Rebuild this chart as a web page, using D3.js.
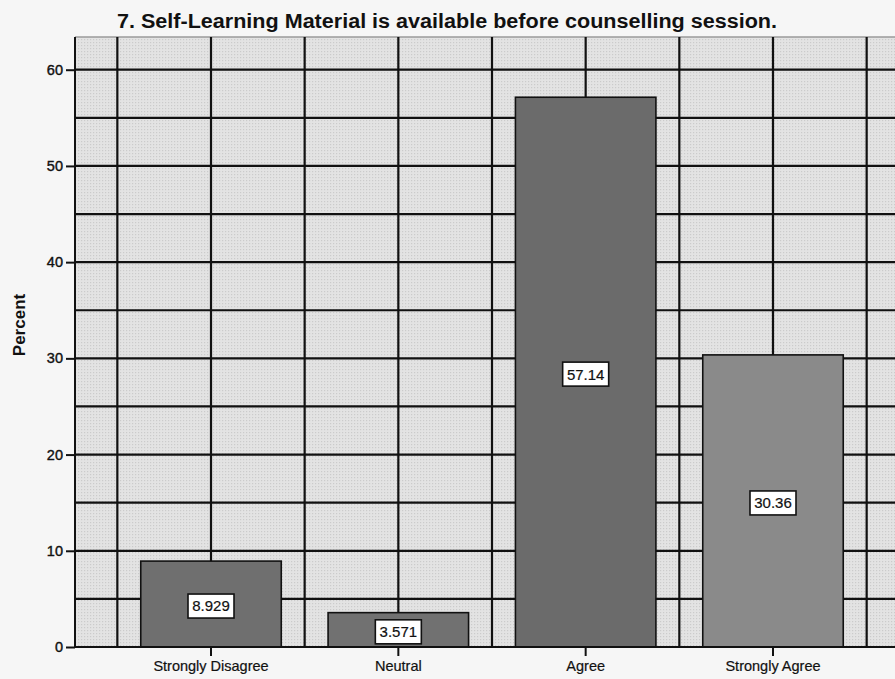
<!DOCTYPE html>
<html><head><meta charset="utf-8">
<script src="https://cdn.jsdelivr.net/npm/d3@7"></script>
<style>html,body{margin:0;padding:0;background:#f6f6f6;overflow:hidden}</style>
</head><body>
<svg id="chart" width="895" height="679"></svg>
<script>
const categories = ["Strongly Disagree", "Neutral", "Agree", "Strongly Agree"];
const percents = [8.929, 3.571, 57.14, 30.36];
const valueLabels = ["8.929", "3.571", "57.14", "30.36"];
const yTicks = [0, 10, 20, 30, 40, 50, 60];
const yGrid = [5, 10, 15, 20, 25, 30, 35, 40, 45, 50, 55, 60];
const barColors = ["#6f6f6f", "#717171", "#6b6b6b", "#8a8a8a"];
const title = "7. Self-Learning Material is available before counselling session.";

(function () {
const svg = d3.select("#chart");
const W = 895, H = 679;
const pLeft = 75, pRight = 909, pTop = 37, pBottom = 647;
const font = "'Liberation Sans', Arial, sans-serif";

svg.append("rect").attr("width", W).attr("height", H).attr("fill", "#f6f6f6");

const defs = svg.append("defs");
const pat = defs.append("pattern").attr("id", "dots").attr("width", 3).attr("height", 3)
  .attr("patternUnits", "userSpaceOnUse");
pat.append("rect").attr("width", 3).attr("height", 3).attr("fill", "#e3e3e3");
pat.append("rect").attr("width", 1.2).attr("height", 1.2).attr("fill", "#cbcbcb");

const x = d3.scaleBand().domain(categories).range([pLeft, pRight]).paddingInner(0.25).paddingOuter(0.351);
const y = d3.scaleLinear().domain([0, 63.4]).range([pBottom, pTop]);

svg.append("rect").attr("x", pLeft).attr("y", pTop).attr("width", pRight - pLeft).attr("height", pBottom - pTop)
  .attr("fill", "url(#dots)");
svg.append("line").attr("x1", pLeft).attr("x2", pRight).attr("y1", pTop).attr("y2", pTop)
  .attr("stroke", "#9a9a9a").attr("stroke-width", 1.5);

svg.append("g").selectAll("line").data(yGrid).join("line")
  .attr("x1", pLeft).attr("x2", pRight).attr("y1", d => y(d)).attr("y2", d => y(d))
  .attr("stroke", "#111").attr("stroke-width", 2.2);

const step = x.step();
const vx = [];
categories.forEach(c => { const cx = x(c) + x.bandwidth() / 2; vx.push(cx - step / 2, cx); });
vx.push(x(categories[categories.length - 1]) + x.bandwidth() / 2 + step / 2);
svg.append("g").selectAll("line").data(vx).join("line")
  .attr("x1", d => d).attr("x2", d => d).attr("y1", pTop).attr("y2", pBottom)
  .attr("stroke", "#111").attr("stroke-width", 2.2);

svg.append("g").selectAll("rect").data(percents).join("rect")
  .attr("x", (d, i) => x(categories[i])).attr("width", x.bandwidth())
  .attr("y", d => y(d)).attr("height", d => pBottom - y(d))
  .attr("fill", (d, i) => barColors[i]).attr("stroke", "#111").attr("stroke-width", 1.6);

const yAxis = d3.axisLeft(y).tickValues(yTicks).tickSize(9).tickPadding(3).tickFormat(d3.format("d"));
const gy = svg.append("g").attr("transform", `translate(${pLeft},0)`).call(yAxis);
gy.select(".domain").remove();
gy.selectAll(".tick line").attr("stroke", "#111").attr("stroke-width", 2);
gy.selectAll(".tick text").attr("font-family", font).attr("font-size", 14.5).attr("fill", "#111")
  .attr("stroke", "#111").attr("stroke-width", 0.4);
svg.append("line").attr("x1", pLeft).attr("x2", pLeft).attr("y1", pTop).attr("y2", pBottom + 1)
  .attr("stroke", "#111").attr("stroke-width", 2);

const xAxis = d3.axisBottom(x).tickSize(9).tickPadding(5);
const gx = svg.append("g").attr("transform", `translate(0,${pBottom})`).call(xAxis);
gx.select(".domain").remove();
gx.selectAll(".tick line").attr("stroke", "#111").attr("stroke-width", 2);
gx.selectAll(".tick text").attr("font-family", font).attr("font-size", 14.5).attr("fill", "#111")
  .attr("stroke", "#111").attr("stroke-width", 0.2);
svg.append("line").attr("x1", pLeft).attr("x2", pRight).attr("y1", pBottom).attr("y2", pBottom)
  .attr("stroke", "#111").attr("stroke-width", 2.2);

const lg = svg.append("g").selectAll("g").data(percents).join("g")
  .attr("transform", (d, i) => `translate(${x(categories[i]) + x.bandwidth() / 2},${y(d / 2) + 2})`);
lg.append("rect").attr("x", -23).attr("y", -12).attr("width", 46).attr("height", 24)
  .attr("fill", "#fff").attr("stroke", "#111").attr("stroke-width", 1.6);
lg.append("text").text((d, i) => valueLabels[i]).attr("text-anchor", "middle").attr("dy", "0.36em")
  .attr("font-family", font).attr("font-size", 15).attr("fill", "#111")
  .attr("stroke", "#111").attr("stroke-width", 0.2);

svg.append("text").text(title).attr("x", 447).attr("y", 28).attr("text-anchor", "middle")
  .attr("font-family", font).attr("font-weight", "bold").attr("font-size", 20).attr("fill", "#111")
  .attr("textLength", 660).attr("lengthAdjust", "spacingAndGlyphs");

svg.append("text").text("Percent").attr("transform", "translate(25,325) rotate(-90)")
  .attr("text-anchor", "middle").attr("font-family", font).attr("font-weight", "bold")
  .attr("font-size", 17).attr("fill", "#111");
})();
</script>
</body></html>
